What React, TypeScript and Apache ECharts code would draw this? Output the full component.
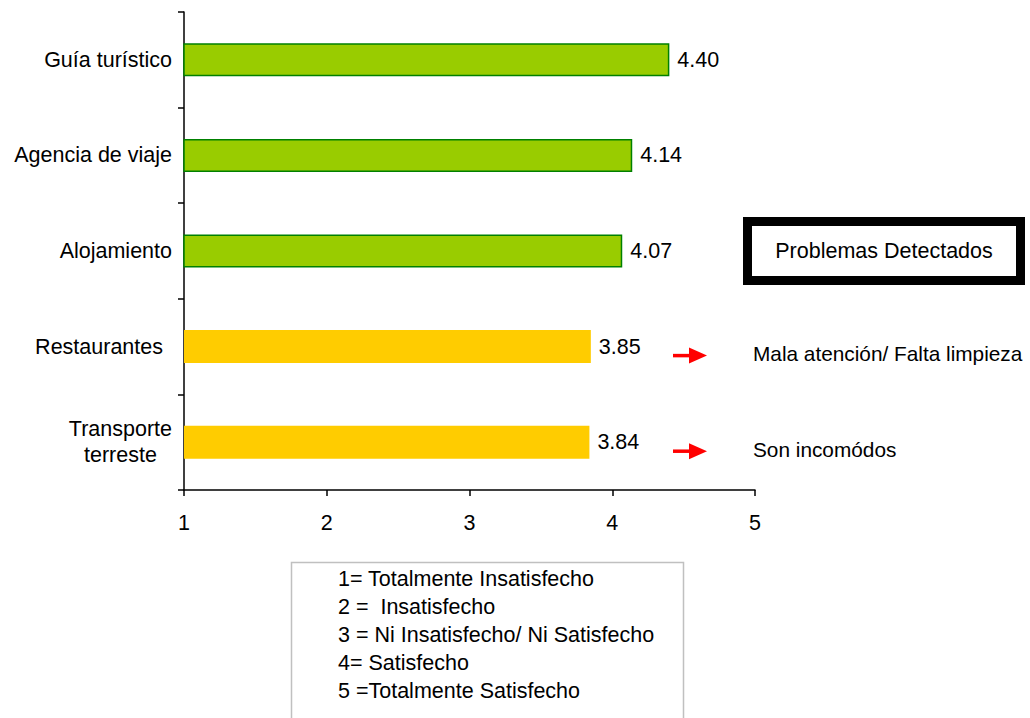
import React, { useEffect, useRef } from "react";
import * as echarts from "echarts";

const categories = ["Guía turístico", "Agencia de viaje", "Alojamiento", "Restaurantes", "Transporte terreste"];
const values = [4.4, 4.14, 4.07, 3.85, 3.84];
const groups = ["ok", "ok", "ok", "problem", "problem"];
const xTicks = [1, 2, 3, 4, 5];
const problems = ["", "", "", "Mala atención/ Falta limpieza", "Son incomódos"];
const legendLines = [
  "1= Totalmente Insatisfecho",
  "2 =  Insatisfecho",
  "3 = Ni Insatisfecho/ Ni Satisfecho",
  "4= Satisfecho",
  "5 =Totalmente Satisfecho",
];

const FONT = "'Liberation Sans', Arial, sans-serif";
const FS = 21.5;

export default function App() {
  const ref = useRef<HTMLDivElement>(null);
  useEffect(() => {
    document.body.style.margin = "0";
    const chart = echarts.init(ref.current!, null, { renderer: "svg" });
    const seriesData = values.map((v, i) => ({
      value: v,
      itemStyle:
        groups[i] === "ok"
          ? { color: "#99CC00", borderColor: "#008000", borderWidth: 1.5 }
          : { color: "#FFCC00", borderWidth: 0 },
    }));
    const graphics: any[] = [];
    graphics.push({
      type: "rect",
      shape: { x: 747.5, y: 221.5, width: 273, height: 59 },
      style: { fill: "#fff", stroke: "#000", lineWidth: 9 },
    });
    graphics.push({
      type: "text",
      x: 884,
      y: 251,
      style: { text: "Problemas Detectados", fontSize: FS, fontFamily: FONT, fill: "#000", align: "center", verticalAlign: "middle" },
    });
    graphics.push({
      type: "polyline",
      shape: { points: [[291.5, 730], [291.5, 562.5], [683.5, 562.5], [683.5, 730]] },
      style: { stroke: "#C0C0C0", lineWidth: 1.5, fill: "none" },
    });
    legendLines.forEach((t, i) => {
      graphics.push({
        type: "text",
        x: 338,
        y: 579 + i * 28,
        style: { text: t, fontSize: FS, fontFamily: FONT, fill: "#000", align: "left", verticalAlign: "middle" },
      });
    });
    const option: any = {
      animation: false,
      grid: { left: 184, right: 275, top: 12, bottom: 228, containLabel: false },
      xAxis: {
        type: "value",
        min: 1,
        max: 5,
        interval: 1,
        axisLine: { show: true, lineStyle: { color: "#000", width: 1.5 } },
        axisTick: { show: true, length: 6, lineStyle: { color: "#000", width: 1.5 } },
        axisLabel: { color: "#000", fontSize: FS, fontFamily: FONT, margin: 22, formatter: (v: number) => (xTicks.includes(v) ? String(v) : "") },
        splitLine: { show: false },
      },
      yAxis: {
        type: "category",
        inverse: true,
        data: categories,
        axisLine: { show: true, lineStyle: { color: "#000", width: 1.5 } },
        axisTick: { show: true, length: 6, lineStyle: { color: "#000", width: 1.5 } },
        axisLabel: {
          color: "#000",
          fontSize: FS,
          fontFamily: FONT,
          margin: 12,
          formatter: (v: string) => {
            if (v === "Transporte terreste") return "{c|Transporte}\n{c|terreste}";
            if (v === "Restaurantes") return "{p|Restaurantes}";
            return v;
          },
          rich: {
            c: { fontSize: FS, fontFamily: FONT, color: "#000", align: "center", lineHeight: 26 },
            p: { fontSize: FS, fontFamily: FONT, color: "#000", padding: [0, 9, 0, 0] },
          },
        },
      },
      series: [
        {
          type: "bar",
          data: seriesData,
          barWidth: 33,
          label: {
            show: true,
            position: "right",
            distance: 8,
            color: "#000",
            fontSize: FS,
            fontFamily: FONT,
            formatter: (p: any) => Number(p.value).toFixed(2),
          },
        },
      ],
      graphic: graphics,
    };
    chart.setOption(option);
    const extra: any[] = [];
    problems.forEach((t, i) => {
      if (!t) return;
      const pt = chart.convertToPixel({ gridIndex: 0 }, [1, i]) as number[];
      const y = pt[1] + 9;
      extra.push({
        type: "line",
        shape: { x1: 673, y1: y, x2: 692, y2: y },
        style: { stroke: "#FF0000", lineWidth: 3.5 },
      });
      extra.push({
        type: "polygon",
        shape: { points: [[689, y - 8], [707, y], [689, y + 8]] },
        style: { fill: "#FF0000" },
      });
      extra.push({
        type: "text",
        x: 753,
        y: y - 2,
        style: { text: t, fontSize: 20.8, fontFamily: FONT, fill: "#000", align: "left", verticalAlign: "middle" },
      });
    });
    chart.setOption({ graphic: graphics.concat(extra) });
    return () => chart.dispose();
  }, []);
  return <div ref={ref} style={{ width: 1030, height: 718 }} />;
}
